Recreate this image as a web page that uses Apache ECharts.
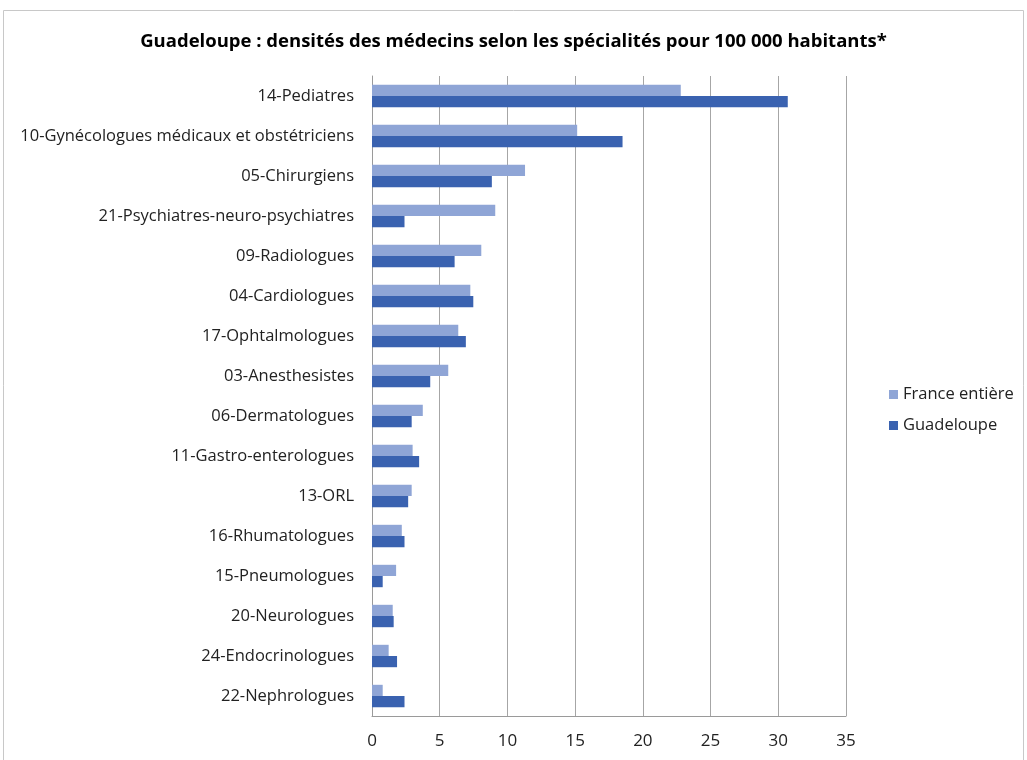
<!DOCTYPE html>
<html>
<head>
<meta charset="utf-8">
<script src="https://cdn.jsdelivr.net/npm/echarts@6/dist/echarts.min.js"></script>
<style>
  html, body { margin: 0; padding: 0; background: #fff; }
  #main { width: 1027px; height: 760px; }
</style>
</head>
<body>
<div id="main"></div>
<script>
    // données
    const specialites = [
        '14-Pediatres',
        '10-Gynécologues médicaux et obstétriciens',
        '05-Chirurgiens',
        '21-Psychiatres-neuro-psychiatres',
        '09-Radiologues',
        '04-Cardiologues',
        '17-Ophtalmologues',
        '03-Anesthesistes',
        '06-Dermatologues',
        '11-Gastro-enterologues',
        '13-ORL',
        '16-Rhumatologues',
        '15-Pneumologues',
        '20-Neurologues',
        '24-Endocrinologues',
        '22-Nephrologues'
    ];
    const franceEntiere = [22.8, 15.15, 11.3, 9.1, 8.07, 7.26, 6.37, 5.63, 3.75, 3.0, 2.93, 2.2, 1.78, 1.53, 1.23, 0.79];
    const guadeloupe = [30.7, 18.5, 8.85, 2.4, 6.1, 7.48, 6.93, 4.3, 2.93, 3.48, 2.67, 2.4, 0.79, 1.6, 1.85, 2.4];
    const xTicks = [0, 5, 10, 15, 20, 25, 30, 35];

    const font = "'Open Sans', 'Noto Sans', sans-serif";
    const myChart = echarts.init(document.getElementById('main'));

    const option = {
        backgroundColor: '#fff',
        animation: false,
        textStyle: {fontFamily: font},
        graphic: [{
            type: 'rect',
            shape: {x: 3.5, y: 10.5, width: 1020, height: 760},
            style: {fill: 'none', stroke: '#c8c8c8', lineWidth: 1}
        }],
        title: {
            text: 'Guadeloupe : densités des médecins selon les spécialités pour 100 000 habitants*',
            left: 'center',
            top: 27,
            textStyle: {fontFamily: font, fontSize: 18.5, fontWeight: 'bold', color: '#000'}
        },
        legend: {
            orient: 'vertical',
            left: 884,
            top: 381,
            itemWidth: 9,
            itemHeight: 9,
            itemGap: 14,
            icon: 'rect',
            textStyle: {fontFamily: font, fontSize: 16.5, color: '#222'},
            data: ['France entière', 'Guadeloupe']
        },
        grid: {
            left: 372,
            right: 181,
            top: 76,
            bottom: 44,
            containLabel: false
        },
        xAxis: {
            type: 'value',
            min: xTicks[0],
            max: xTicks[xTicks.length - 1],
            interval: 5,
            axisLine: {show: true, lineStyle: {color: '#9a9a9a'}},
            axisTick: {show: false},
            axisLabel: {fontFamily: font, fontSize: 17, color: '#222', margin: 17},
            splitLine: {show: true, lineStyle: {color: '#a6a6a6'}}
        },
        yAxis: {
            type: 'category',
            inverse: true,
            data: specialites,
            axisLine: {show: true, lineStyle: {color: '#9a9a9a'}},
            axisTick: {show: false},
            axisLabel: {fontFamily: font, fontSize: 16.5, color: '#222', margin: 18}
        },
        series: [{
            name: 'France entière',
            type: 'bar',
            data: franceEntiere,
            barGap: '0%',
            barCategoryGap: '44%',
            itemStyle: {color: '#8fa5d6'}
        }, {
            name: 'Guadeloupe',
            type: 'bar',
            data: guadeloupe,
            barGap: '0%',
            barCategoryGap: '44%',
            itemStyle: {color: '#3a62b0'}
        }]
    };
    myChart.setOption(option);
</script>
</body>
</html>
